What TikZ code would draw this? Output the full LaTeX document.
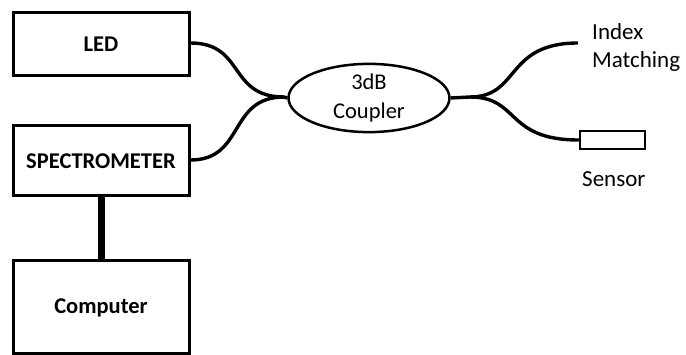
\documentclass[tikz,border=0pt]{standalone}
\usepackage{fontspec}
\setmainfont{Carlito}
\usetikzlibrary{shapes.geometric}
\begin{document}
\begin{tikzpicture}[x=1pt,y=-1pt,
  blk/.style={draw,line width=3pt,minimum width=176pt,font=\fontsize{22.5}{26}\selectfont\bfseries,inner sep=0pt},
  fiber/.style={line width=3.4pt},
  lbl/.style={font=\fontsize{23}{28}\selectfont,inner sep=0pt,align=left}]
\useasboundingbox (0,0) rectangle (686,355);
\node[blk,minimum height=63pt] (led) at (101,44.5) {LED};
\node[blk,minimum height=70pt] (spec) at (101,161) {SPECTROMETER};
\node[blk,minimum height=93pt] (comp) at (101,307.5) {Computer};
\node[draw,ellipse,line width=2.5pt,minimum width=161pt,minimum height=63pt,inner sep=0pt,align=center,font=\fontsize{22.5}{29}\selectfont] (cpl) at (369,98) {3dB\\Coupler};
\node[draw,line width=2.5pt,minimum width=65pt,minimum height=18pt,inner sep=0pt] (sens) at (612.5,140) {};
\coordinate (jl) at (284,97);
\coordinate (jr) at (470,97);
\coordinate (im) at (578,43);
\draw[fiber] (led.east|-0,43) .. controls (245,43) and (228,97) .. (jl) -- (cpl.west);
\draw[fiber] (spec.east|-0,160) .. controls (245,160) and (228,97) .. (jl);
\draw[fiber] (cpl.east) -- (jr) .. controls (520,97) and (505,43) .. (im);
\draw[fiber] (jr) .. controls (520,97) and (505,140) .. (sens.west);
\draw[line width=7pt] (spec.south) -- (comp.north);
\node[lbl,anchor=base west] (idx) at (592,68) {Index\\Matching};
\node[lbl,anchor=base west] (sl) at (582,187) {Sensor};
\end{tikzpicture}
\end{document}
